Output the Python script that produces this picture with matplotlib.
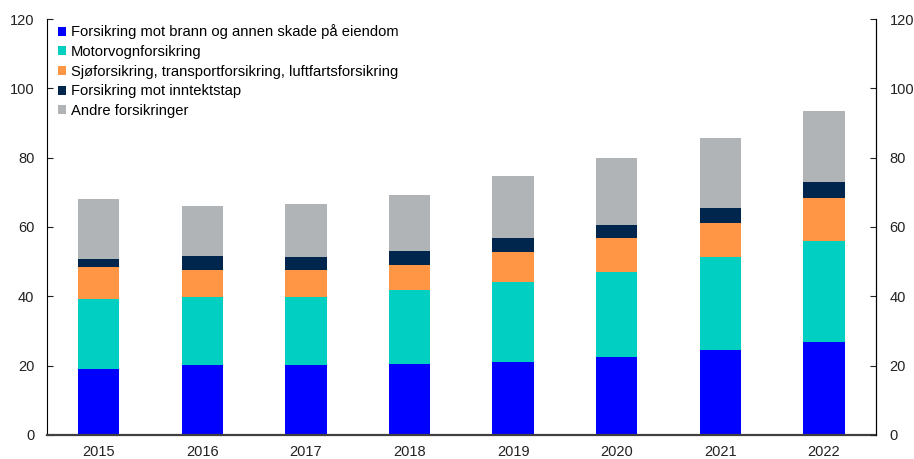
import numpy as np
import matplotlib
matplotlib.use('Agg')
import matplotlib.pyplot as plt

plt.rcParams['font.family'] = ['Liberation Sans', 'DejaVu Sans']

years = ['2015', '2016', '2017', '2018', '2019', '2020', '2021', '2022']
brann = [19.1, 20.2, 20.2, 20.4, 21.1, 22.5, 24.6, 26.8]
motorvogn = [20.0, 19.5, 19.7, 21.3, 22.9, 24.6, 26.7, 29.2]
sjo = [9.4, 8.0, 7.7, 7.4, 8.9, 9.7, 9.9, 12.3]
inntektstap = [2.3, 3.8, 3.7, 4.0, 3.8, 3.9, 4.2, 4.7]
andre = [17.4, 14.5, 15.2, 16.0, 17.9, 19.1, 20.2, 20.5]

labels = ['Forsikring mot brann og annen skade på eiendom',
          'Motorvognforsikring',
          'Sjøforsikring, transportforsikring, luftfartsforsikring',
          'Forsikring mot inntektstap',
          'Andre forsikringer']
colors = ['#0000FF', '#00CFC1', '#FF9646', '#00264D', '#B1B4B6']
series = [brann, motorvogn, sjo, inntektstap, andre]

fig = plt.figure(figsize=(9.14, 4.59), dpi=100)
ax = fig.add_axes([0.0514, 0.0523, 0.9066, 0.9063])

x = np.arange(len(years))
bottom = np.zeros(len(years))
for vals, lab, col in zip(series, labels, colors):
    ax.bar(x, vals, width=0.4, bottom=bottom, color=col, label=lab)
    bottom += np.array(vals)

ax.set_xlim(-0.5, 7.5)
ax.set_ylim(0, 120)
ax.set_yticks(range(0, 121, 20))
ax.set_xticks(x)
ax.set_xticklabels(years)
ax.tick_params(axis='x', length=0, labelsize=10.5, pad=7, colors='#222222')
ax.tick_params(axis='y', direction='in', length=4, labelsize=10.5, pad=9, colors='#222222')
ax.spines['top'].set_visible(False)
ax.spines['bottom'].set_color('#404040')
ax.spines['bottom'].set_linewidth(1.6)
ax.spines['left'].set_linewidth(0.8)
ax.spines['right'].set_linewidth(0.8)

ax2 = ax.twinx()
ax2.set_ylim(0, 120)
ax2.set_yticks(range(0, 121, 20))
ax2.tick_params(axis='y', direction='in', length=4, labelsize=10.5, pad=10, colors='#222222')
for s in ['top', 'bottom', 'left']:
    ax2.spines[s].set_visible(False)
ax2.spines['right'].set_linewidth(0.8)

leg = ax.legend(loc='upper left', bbox_to_anchor=(0.003, 1.008), frameon=False,
                fontsize=10.6, handlelength=0.55, handleheight=0.55,
                handletextpad=0.3, labelspacing=0.38, borderaxespad=0.2)

fig.savefig('out.png', dpi=100)
